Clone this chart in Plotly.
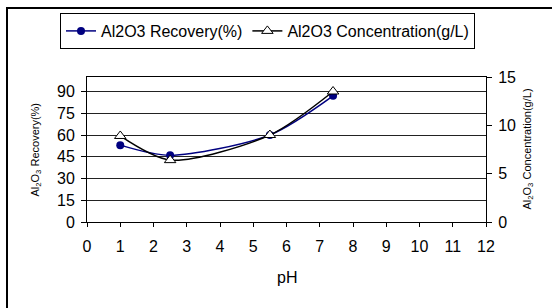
import plotly.graph_objects as go

ph = [1, 2.5, 5.5, 7.4]
recovery = [53, 46, 60, 87]
concentration = [8.9, 6.4, 9.0, 13.5]

x_ticks = list(range(0, 13))
y1_ticks = [0, 15, 30, 45, 60, 75, 90]
y2_ticks = [0, 5, 10, 15]

fig = go.Figure()
fig.add_trace(go.Scatter(
    x=ph, y=recovery, name="Al2O3 Recovery(%)", mode="lines+markers",
    line=dict(color="#000080", width=1.5, shape="spline", smoothing=0.8),
    marker=dict(symbol="circle", size=8, color="#000080"),
    yaxis="y"))
fig.add_trace(go.Scatter(
    x=ph, y=concentration, name="Al2O3 Concentration(g/L)", mode="lines+markers",
    line=dict(color="black", width=1.5, shape="spline", smoothing=0.8),
    marker=dict(symbol="triangle-up", size=10, color="white", line=dict(color="black", width=1)),
    yaxis="y2"))

font = "Liberation Sans, Arial, sans-serif"
W, H = 399.0, 145.0
fig.update_layout(
    width=552, height=308,
    margin=dict(l=87, r=66, t=77, b=86, autoexpand=False),
    paper_bgcolor="white", plot_bgcolor="white",
    font=dict(family=font, size=16, color="black"),
    showlegend=True,
    legend=dict(orientation="h", x=(60 - 87) / W, y=(222 - 13) / H, xref="paper", yref="paper",
                xanchor="left", yanchor="top",
                bordercolor="black", borderwidth=1, bgcolor="white",
                font=dict(size=16), tracegroupgap=0),
    xaxis=dict(range=[0, 12], tickvals=x_ticks, showgrid=False, showline=True,
               linecolor="black", linewidth=1, mirror=True, ticks="outside", ticklen=4,
               tickcolor="black", zeroline=False, automargin=False, ticklabelstandoff=6),
    yaxis=dict(range=[0, 100], tickvals=y1_ticks, showgrid=True, gridcolor="#222222",
               gridwidth=1, showline=True, linecolor="black", linewidth=1,
               ticks="outside", ticklen=5, tickcolor="black", zeroline=False,
               automargin=False, ticklabelstandoff=3),
    yaxis2=dict(range=[0, 15], tickvals=y2_ticks, overlaying="y", side="right",
                showgrid=False, showline=True, linecolor="black", linewidth=1,
                ticks="outside", ticklen=5, tickcolor="black", zeroline=False,
                automargin=False, ticklabelstandoff=3),
    annotations=[
        dict(text="Al<sub>2</sub>O<sub>3</sub> Recovery(%)", xref="paper", yref="paper",
             x=(35 - 87) / W, y=0.5, textangle=-90, showarrow=False,
             xanchor="center", yanchor="middle", font=dict(size=11)),
        dict(text="Al<sub>2</sub>O<sub>3</sub> Concentration(g/L)", xref="paper", yref="paper",
             x=(527 - 87) / W, y=0.5, textangle=-90, showarrow=False,
             xanchor="center", yanchor="middle", font=dict(size=11)),
        dict(text="pH", xref="paper", yref="paper", x=0.5, y=(222 - 277) / H,
             showarrow=False, xanchor="center", yanchor="middle", font=dict(size=16)),
    ],
    shapes=[dict(type="rect", xref="paper", yref="paper",
                 x0=(7 - 87) / W, x1=(570 - 87) / W, y0=(222 - 330) / H, y1=(222 - 8) / H,
                 line=dict(color="black", width=2), fillcolor="rgba(0,0,0,0)", layer="below")],
)

fig.write_html("out.html", config={"displayModeBar": False},
               post_script="document.body.style.margin='0';")
